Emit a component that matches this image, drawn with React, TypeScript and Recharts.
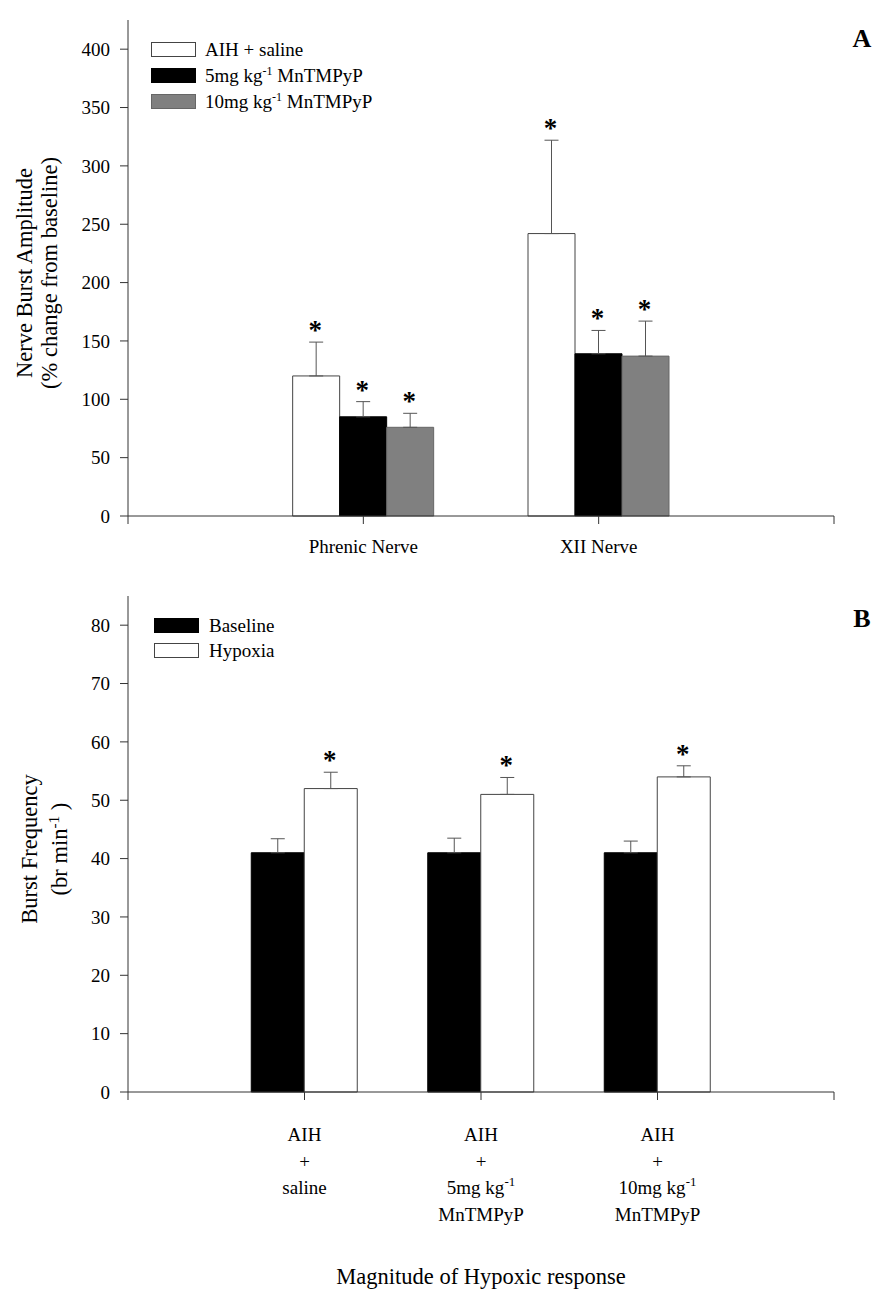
import React from "react";
import { BarChart, Bar, XAxis, YAxis, ErrorBar, LabelList, Legend } from "recharts";

const FONT = '"Liberation Serif", "Times New Roman", serif';
const AXIS = "#333";

// panel A: burst amplitude, % change from baseline
const nerves = ["Phrenic Nerve", "XII Nerve"];
const ampSeries = ["AIH + saline", "5mg kg^{-1} MnTMPyP", "10mg kg^{-1} MnTMPyP"];
const salineAmp = [120, 242];
const salineAmpSem = [29, 80];
const mn5Amp = [85, 139];
const mn5AmpSem = [13, 20];
const mn10Amp = [76, 137];
const mn10AmpSem = [12, 30];
const ampTicks = [0, 50, 100, 150, 200, 250, 300, 350, 400];

// panel B: burst frequency
const treatments = ["AIH|+|saline", "AIH|+|5mg kg^{-1}|MnTMPyP", "AIH|+|10mg kg^{-1}|MnTMPyP"];
const freqSeries = ["Baseline", "Hypoxia"];
const baselineFreq = [41, 41, 41];
const baselineFreqSem = [2.4, 2.5, 2];
const hypoxiaFreq = [52, 51, 54];
const hypoxiaFreqSem = [2.8, 2.9, 1.9];
const freqTicks = [0, 10, 20, 30, 40, 50, 60, 70, 80];

const ampData = nerves.map((name, i) => ({
  pos: i + 1, name,
  saline: salineAmp[i], salineErr: [0, salineAmpSem[i]],
  mn5: mn5Amp[i], mn5Err: [0, mn5AmpSem[i]],
  mn10: mn10Amp[i], mn10Err: [0, mn10AmpSem[i]],
}));

const freqData = treatments.map((name, i) => ({
  pos: i + 1, name,
  baseline: baselineFreq[i], baselineErr: [0, baselineFreqSem[i]],
  hypoxia: hypoxiaFreq[i], hypoxiaErr: [0, hypoxiaFreqSem[i]],
}));

// "kg^{-1}" -> normal / superscript pieces
const splitSup = (s: string) => s.split(/\^\{([^}]*)\}/);

const SvgSup = ({ text, x, y, size, anchor = "middle", ...rest }: any) => {
  const parts = splitSup(text);
  return (
    <text x={x} y={y} textAnchor={anchor} fontFamily={FONT} fontSize={size} fill="#000" {...rest}>
      {parts.map((p, i) =>
        i % 2 ? (
          <tspan key={i} dy={-8} fontSize={size * 0.68}>{p}</tspan>
        ) : (
          <tspan key={i} dy={i > 0 ? 8 : 0}>{p}</tspan>
        )
      )}
    </text>
  );
};

const HtmlSup = ({ text }: { text: string }) => (
  <>
    {splitSup(text).map((p, i) =>
      i % 2 ? <sup key={i} style={{ fontSize: 12, lineHeight: 0, verticalAlign: 7 }}>{p}</sup> : <span key={i}>{p}</span>
    )}
  </>
);

const starLabel = (values: number[], sems: number[]) => (props: any) => {
  const vb = props.viewBox ?? props;
  const i = props.index;
  if (vb == null || i == null || !values[i]) return null;
  const perUnit = vb.height / values[i];
  const top = vb.y - sems[i] * perUnit;
  return (
    <text x={vb.x + vb.width / 2 - 1} y={top - 3} textAnchor="middle" fontFamily={FONT} fontWeight="bold" fontSize={27} fill="#000">
      *
    </text>
  );
};

const legendContent = (order: string[], rowH: number, gap: number) => (props: any) => {
  const items = [...(props.payload || [])].sort((a: any, b: any) => order.indexOf(a.value) - order.indexOf(b.value));
  return (
    <div style={{ fontFamily: FONT, fontSize: 19, color: "#000" }}>
      {items.map((e: any) => (
        <div key={e.value} style={{ display: "flex", alignItems: "center", height: rowH, whiteSpace: "nowrap" }}>
          <span style={{ display: "inline-block", width: 45, height: 15, boxSizing: "border-box", background: e.color, border: `1px solid ${e.color === "#ffffff" ? "#444" : e.color === "#808080" ? "#666" : "#000"}` }} />
          <span style={{ marginLeft: gap }}><HtmlSup text={e.value} /></span>
        </div>
      ))}
    </div>
  );
};

const NerveTick = (props: any) => {
  const { x, y, payload } = props;
  const label = nerves[payload.value - 1];
  if (!label) return <g />;
  return <text x={x} y={y + 29} textAnchor="middle" fontFamily={FONT} fontSize={19} fill="#000">{label}</text>;
};

const TreatmentTick = (props: any) => {
  const { x, y, payload } = props;
  const label = treatments[payload.value - 1];
  if (!label) return <g />;
  const offsets = [41, 68, 94, 121];
  return (
    <g>
      {label.split("|").map((line, k) => (
        <SvgSup key={k} text={line} x={x} y={y + offsets[k]} size={19} />
      ))}
    </g>
  );
};

const yTitle = (lines: string[], baselines: number[]) => (props: any) => {
  const vb = props.viewBox;
  const cy = vb.y + vb.height / 2 + 5;
  return (
    <g>
      {lines.map((l, k) => (
        <SvgSup key={k} text={l} x={baselines[k]} y={cy} size={22.5} transform={`rotate(-90, ${baselines[k]}, ${cy})`} />
      ))}
    </g>
  );
};

const xTitle = (props: any) => {
  const vb = props.viewBox;
  return (
    <text x={vb.x + vb.width / 2} y={vb.y + 192} textAnchor="middle" fontFamily={FONT} fontSize={22.5} fill="#000">
      Magnitude of Hypoxic response
    </text>
  );
};

const PanelLetter = ({ letter, top }: { letter: string; top: number }) => (
  <div style={{ position: "absolute", left: 849, top, width: 26, textAlign: "center", fontFamily: FONT, fontWeight: "bold", fontSize: 26, lineHeight: "26px", color: "#000" }}>
    {letter}
  </div>
);

const tickStyle = { fontFamily: FONT, fontSize: 19, fill: "#000" };
const errProps = { width: 7, stroke: "#555", strokeWidth: 1 };

export default function App() {
  return (
    <div style={{ position: "absolute", left: 0, top: 0, width: 896, height: 1304, background: "#fff" }}>
      <div style={{ position: "absolute", left: 0, top: 0 }}>
        <BarChart width={896} height={580} data={ampData} margin={{ top: 20, right: 62, bottom: 0, left: 0 }} barGap={0}>
          <XAxis dataKey="pos" type="number" domain={[0, 3]} ticks={[0, 1, 2, 3]} interval={0} height={64}
            tick={<NerveTick />} tickSize={8} tickMargin={0} stroke={AXIS} />
          <XAxis xAxisId="top" orientation="top" type="number" domain={[0, 1]} height={0} tick={false} tickLine={false} stroke={AXIS} />
          <YAxis type="number" domain={[0, 425]} ticks={ampTicks} interval={0} width={128} tickSize={8} tickMargin={10}
            tick={tickStyle} stroke={AXIS}
            label={yTitle(["Nerve Burst Amplitude", "(% change from baseline)"], [32, 57])} />
          <YAxis yAxisId="frame" orientation="right" type="number" domain={[0, 1]} width={0} tick={false} tickLine={false} stroke={AXIS} />
          <Legend layout="vertical" align="center" verticalAlign="middle" wrapperStyle={{ left: 151, top: 36.5, width: "auto" }}
            content={legendContent(ampSeries, 26, 9)} />
          <Bar dataKey="saline" name={ampSeries[0]} fill="#ffffff" stroke="#444" barSize={47} isAnimationActive={false}>
            <ErrorBar dataKey="salineErr" {...errProps} />
            <LabelList dataKey="saline" content={starLabel(salineAmp, salineAmpSem)} />
          </Bar>
          <Bar dataKey="mn5" name={ampSeries[1]} fill="#000000" stroke="#000" barSize={47} isAnimationActive={false}>
            <ErrorBar dataKey="mn5Err" {...errProps} />
            <LabelList dataKey="mn5" content={starLabel(mn5Amp, mn5AmpSem)} />
          </Bar>
          <Bar dataKey="mn10" name={ampSeries[2]} fill="#808080" stroke="#666" barSize={47} isAnimationActive={false}>
            <ErrorBar dataKey="mn10Err" {...errProps} />
            <LabelList dataKey="mn10" content={starLabel(mn10Amp, mn10AmpSem)} />
          </Bar>
        </BarChart>
      </div>
      <PanelLetter letter="A" top={26} />
      <div style={{ position: "absolute", left: 0, top: 580 }}>
        <BarChart width={896} height={724} data={freqData} margin={{ top: 16, right: 62, bottom: 0, left: 0 }} barGap={0}>
          <XAxis dataKey="pos" type="number" domain={[0, 4]} ticks={[0, 1, 2, 3, 4]} interval={0} height={212}
            tick={<TreatmentTick />} tickSize={8} tickMargin={0} stroke={AXIS} label={xTitle} />
          <XAxis xAxisId="top" orientation="top" type="number" domain={[0, 1]} height={0} tick={false} tickLine={false} stroke={AXIS} />
          <YAxis type="number" domain={[0, 85]} ticks={freqTicks} interval={0} width={128} tickSize={8} tickMargin={10}
            tick={tickStyle} stroke={AXIS}
            label={yTitle(["Burst Frequency", "(br min^{-1} )"], [37, 67])} />
          <YAxis yAxisId="frame" orientation="right" type="number" domain={[0, 1]} width={0} tick={false} tickLine={false} stroke={AXIS} />
          <Legend layout="vertical" align="center" verticalAlign="middle" wrapperStyle={{ left: 154, top: 33, width: "auto" }}
            content={legendContent(freqSeries, 25, 10)} />
          <Bar dataKey="baseline" name={freqSeries[0]} fill="#000000" stroke="#000" barSize={53} isAnimationActive={false}>
            <ErrorBar dataKey="baselineErr" {...errProps} />
          </Bar>
          <Bar dataKey="hypoxia" name={freqSeries[1]} fill="#ffffff" stroke="#444" barSize={53} isAnimationActive={false}>
            <ErrorBar dataKey="hypoxiaErr" {...errProps} />
            <LabelList dataKey="hypoxia" content={starLabel(hypoxiaFreq, hypoxiaFreqSem)} />
          </Bar>
        </BarChart>
      </div>
      <PanelLetter letter="B" top={606} />
    </div>
  );
}
